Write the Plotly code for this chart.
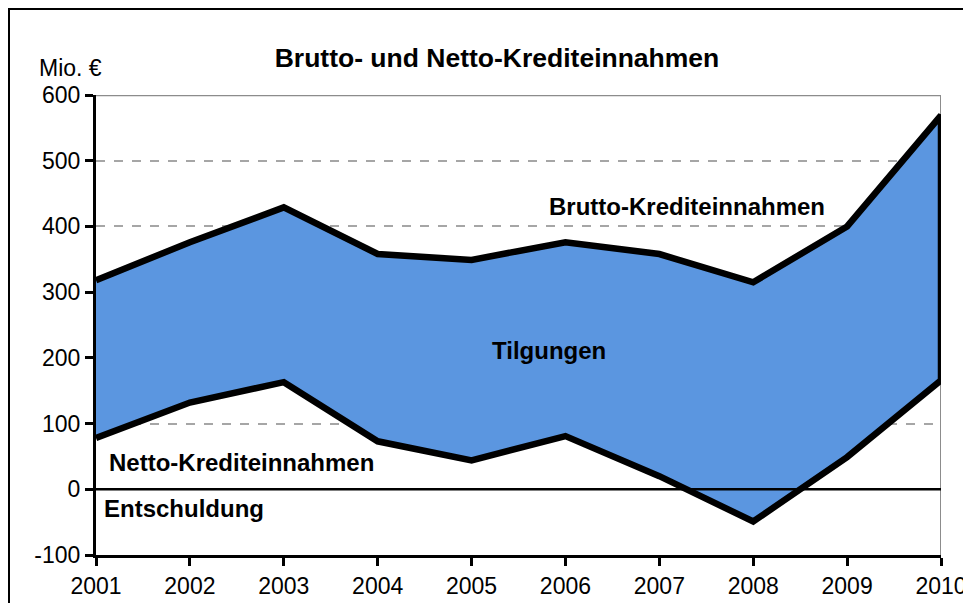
import plotly.graph_objects as go

years = [2001, 2002, 2003, 2004, 2005, 2006, 2007, 2008, 2009, 2010]
brutto = [318, 376, 429, 358, 349, 376, 358, 315, 400, 569]
netto = [78, 132, 163, 73, 44, 81, 20, -49, 49, 166]
y_ticks = [-100, 0, 100, 200, 300, 400, 500, 600]
y_labels = ["-100", "0", "100", "200", "300", "400", "500", "600"]

FONT = "Liberation Sans, Arial, sans-serif"
W, H = 971, 603
OFF = 8  # page body margin
L, T = 96 - OFF, 95 - OFF
pw, ph = 845, 460
R, B = W - L - pw, H - T - ph

def px(x):  # image x -> paper
    return (x - OFF - L) / pw

def py(y):  # image y -> paper
    return (T + ph - (y - OFF)) / ph

fig = go.Figure()

fig.add_trace(go.Scatter(
    x=years + years[::-1], y=brutto + netto[::-1],
    fill="toself", fillcolor="#5B96E0",
    line=dict(color="black", width=6.5), mode="lines",
    hoverinfo="skip", showlegend=False))

fig.add_shape(type="line", xref="x", yref="y", x0=years[0], x1=years[-1] + 0.04, y0=0, y1=0,
              line=dict(color="black", width=2.5), layer="above")
fig.add_shape(type="line", xref="x", yref="y", x0=years[0], x1=years[-1], y0=600, y1=600,
              line=dict(color="#8c8c8c", width=2.5), layer="below")
fig.add_shape(type="line", xref="x", yref="y", x0=years[-1], x1=years[-1], y0=-100, y1=600,
              line=dict(color="#8c8c8c", width=2), layer="below")

# outer frame (figure border, top and left)
fig.add_shape(type="line", xref="paper", yref="paper", x0=px(OFF), x1=px(W + 20), y0=py(OFF + 1), y1=py(OFF + 1),
              line=dict(color="black", width=2))
fig.add_shape(type="line", xref="paper", yref="paper", x0=px(OFF + 1), x1=px(OFF + 1), y0=py(OFF), y1=py(H + 20),
              line=dict(color="black", width=2))

ann_font = dict(family=FONT, size=24, color="black")
fig.add_annotation(x=2007.29, y=431, text="<b>Brutto-Krediteinnahmen</b>", showarrow=False,
                   font=ann_font, xref="x", yref="y")
fig.add_annotation(x=2005.82, y=211, text="<b>Tilgungen</b>", showarrow=False,
                   font=ann_font, xref="x", yref="y")
fig.add_annotation(x=2001.15, y=41, text="<b>Netto-Krediteinnahmen</b>", showarrow=False,
                   font=ann_font, xref="x", yref="y", xanchor="left", xshift=-3)
fig.add_annotation(x=2001.1, y=-29, text="<b>Entschuldung</b>", showarrow=False,
                   font=ann_font, xref="x", yref="y", xanchor="left", xshift=-3)
fig.add_annotation(x=px(40), y=py(68), text="Mio. €", showarrow=False, xref="paper", yref="paper",
                   xanchor="left", yanchor="middle", xshift=-3, font=dict(family=FONT, size=23, color="black"))

fig.update_layout(
    width=W, height=H,
    margin=dict(l=L, r=R, t=T, b=B),
    paper_bgcolor="white", plot_bgcolor="white",
    title=dict(text="<b>Brutto- und Netto-Krediteinnahmen</b>", xref="paper", x=px(497), xanchor="center",
               yref="container", y=1 - (58 - OFF) / H, yanchor="middle",
               font=dict(family=FONT, size=26.5, color="black")),
    font=dict(family=FONT, size=23, color="black"),
    showlegend=False,
)
fig.update_xaxes(
    range=[years[0], years[-1]], tickvals=years, ticktext=[str(y) for y in years],
    showline=True, linecolor="black", linewidth=3, ticks="outside", ticklen=8, tickwidth=2.5,
    tickcolor="black", showgrid=False, zeroline=False, tickfont=dict(size=23), fixedrange=True,
)
fig.update_yaxes(
    range=[-100, 600], tickvals=y_ticks, ticktext=y_labels, showline=True, linecolor="black", linewidth=3,
    ticks="outside", ticklen=8, tickwidth=2.5, tickcolor="black",
    showgrid=True, gridcolor="#a6a6a6", griddash="dash", gridwidth=1.5, zeroline=False,
    tickfont=dict(size=23),
)

fig.write_html("out.html")
